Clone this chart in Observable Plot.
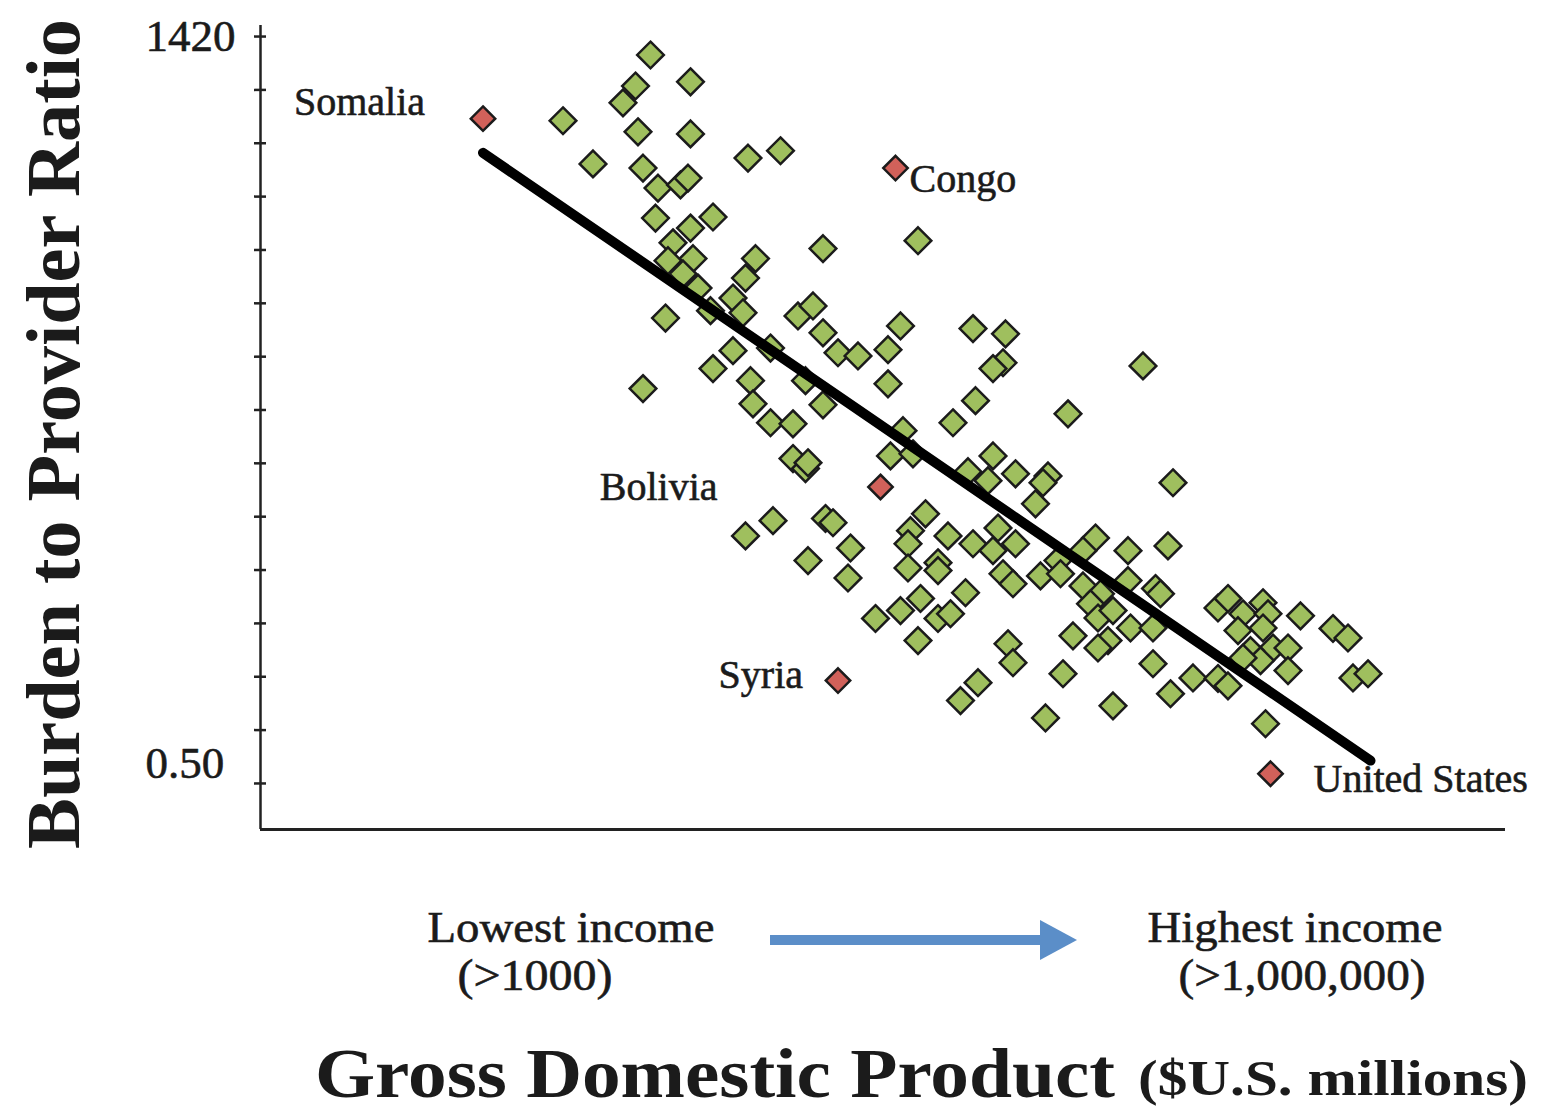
<!DOCTYPE html>
<html>
<head>
<meta charset="utf-8">
<script src="https://cdn.jsdelivr.net/npm/d3@7"></script>
<script src="https://cdn.jsdelivr.net/npm/@observablehq/plot@0.6"></script>
<style>
  html, body { margin: 0; padding: 0; background: #ffffff; }
  #wrap { position: relative; width: 1556px; height: 1117px; overflow: hidden; }
  #wrap > svg.overlay { position: absolute; left: 0; top: 0; pointer-events: none; }
</style>
</head>
<body>
<div id="wrap"></div>
<script>
// ---------------- data ----------------
// x: log10 of GDP ($US millions), y: burden to provider ratio
const gdpLog = [3.46,3.62,3.40,3.35,3.11,3.41,3.62,3.23,3.43,3.49,
  3.58,3.61,3.85,3.98,3.48,3.71,3.62,3.55,3.53,3.63,
  3.88,4.15,3.84,3.59,3.65,3.79,3.83,3.70,3.52,4.05,
  4.11,4.15,4.21,4.29,3.79,3.71,3.86,3.94,3.43,4.08,
  4.41,4.53,4.46,4.75,4.88,4.87,4.83,5.43,4.41,4.76,
  3.87,3.94,4.03,4.15,4.03,4.08,4.09,4.42,4.47,4.51,
  4.67,4.73,3.84,3.95,4.16,4.19,4.26,4.09,4.25,4.56,
  4.50,4.49,4.65,4.75,4.49,4.61,4.61,4.72,4.36,4.46,
  4.54,4.61,4.66,4.53,4.70,4.77,5.13,4.83,4.81,4.92,
  5.05,5.03,5.00,5.55,4.85,4.83,4.92,4.87,4.91,5.02,
  5.09,5.10,5.24,5.19,5.37,5.53,5.19,5.26,5.37,5.48,
  5.50,5.22,5.25,5.31,5.38,5.47,5.15,5.29,5.25,4.89,
  4.91,5.11,5.47,
  5.04,5.31,5.54,5.63,5.73,5.77,5.92,
  5.73,5.77,5.83,5.91,5.93,6.06,6.19,6.25,5.81,5.91,
  5.95,6.01,5.86,5.90,6.01,5.83,6.27,6.33];
const ratio = [1385,1334,1326,1294,1260,1239,1235,1178,1170,1132,
  1138,1151,1189,1203,1075,1077,1056,1028,994,998,
  998,1017,961,969,942,923,895,899,885,889,
  908,857,819,813,823,789,766,828,751,766,
  825,1032,870,865,855,800,789,794,760,728,
  722,686,684,720,618,599,610,623,671,627,
  686,593,471,500,504,496,448,424,391,513,
  481,456,471,456,410,420,405,363,314,329,
  352,314,323,272,158,192,703,623,576,589,
  585,572,532,572,486,443,456,399,380,395,
  424,399,467,443,443,452,376,361,386,371,
  361,342,315,329,296,296,281,272,258,266,
  230,209,228,
  125,148,171,201,200,186,114,
  334,352,323,344,323,319,295,277,291,296,
  258,258,253,234,215,239,201,209];

const highlightNames = ["Somalia", "Congo", "Bolivia", "Syria", "United States"];
const highlightGdpLog = [2.79, 4.44, 4.38, 4.21, 5.94];
const highlightRatio = [1264, 1170, 564, 196, 19];

const trendGdpLog = [2.79, 6.34];
const trendRatio = [1199, 44];

const xDomain = [1.9, 6.88];
const yDomain = [-87, 1441];
const yTickValues = [0.5, 101.9, 203.3, 304.7, 406.1, 507.5, 608.9, 710.3, 811.6, 913.0, 1014.4, 1115.8, 1217.2, 1318.6, 1420];
const yLabelValues = [1420, 0.5];
const yLabelText = ["1420", "0.50"];

const yTitle = "Burden to Provider Ratio";
const xTitle = "Gross Domestic Product";
const xTitleUnit = "($U.S. millions)";
const lowLabel = ["Lowest income", "(>1000)"];
const highLabel = ["Highest income", "(>1,000,000)"];

// ---------------- tables built from the arrays ----------------
const points = gdpLog.map((g, i) => ({gdp: g, ratio: ratio[i]}));
const highlights = highlightNames.map((n, i) => ({name: n, gdp: highlightGdpLog[i], ratio: highlightRatio[i]}));
const trend = trendGdpLog.map((g, i) => ({gdp: g, ratio: trendRatio[i]}));

// label placement (style, not data)
const labelLayout = [
  {dx: -58, dy: -16, anchor: "end"},
  {dx: 14, dy: 11, anchor: "start"},
  {dx: -163, dy: 0, anchor: "end"},
  {dx: -35, dy: -5, anchor: "end"},
  {dx: 43, dy: 5, anchor: "start"}
];

const GREEN = "#9fbf5e";
const RED = "#d1615a";
const INK = "#1b1b1b";
const SERIF = "'Liberation Serif', 'Times New Roman', serif";

const chart = Plot.plot({
  width: 1556,
  height: 870,
  marginLeft: 260,
  marginRight: 51,
  marginTop: 25,
  marginBottom: 41,
  x: {domain: xDomain, axis: null},
  y: {domain: yDomain, axis: null},
  style: {fontFamily: SERIF, background: "white", overflow: "visible", color: INK},
  marks: [
    Plot.ruleX([xDomain[0]], {stroke: "#222", strokeWidth: 2.5}),
    Plot.ruleY([yDomain[0]], {stroke: "#222", strokeWidth: 3}),
    Plot.ruleY(yTickValues, {y: d => d, x1: () => xDomain[0], x2: () => xDomain[0], insetLeft: -6, insetRight: -6, stroke: "#222", strokeWidth: 2.5}),
    Plot.text([yLabelValues[0]], {x: () => xDomain[0], y: d => d, text: () => yLabelText[0], textAnchor: "start", dx: -115, dy: 0, fontSize: 45, fill: INK, stroke: INK, strokeWidth: 0.6}),
    Plot.text([yLabelValues[1]], {x: () => xDomain[0], y: d => d, text: () => yLabelText[1], textAnchor: "start", dx: -115, dy: -20, fontSize: 45, fill: INK, stroke: INK, strokeWidth: 0.6}),
    Plot.dot(points, {x: "gdp", y: "ratio", symbol: "diamond2", r: 12, fill: GREEN, stroke: INK, strokeWidth: 2.5}),
    Plot.line(trend, {x: "gdp", y: "ratio", stroke: "#000", strokeWidth: 10, strokeLinecap: "round"}),
    Plot.dot(highlights, {x: "gdp", y: "ratio", symbol: "diamond2", r: 11, fill: RED, stroke: INK, strokeWidth: 2.5}),
    ...highlights.map((h, i) => Plot.text([h], {
      x: "gdp", y: "ratio", text: "name",
      dx: labelLayout[i].dx, dy: labelLayout[i].dy, textAnchor: labelLayout[i].anchor,
      fontSize: 40, fill: INK, stroke: INK, strokeWidth: 0.6
    }))
  ]
});

const wrap = document.getElementById("wrap");
wrap.appendChild(chart);

// ---------------- annotations: axis titles and income arrow ----------------
const svg = d3.select(wrap).append("svg")
  .attr("class", "overlay")
  .attr("width", 1556).attr("height", 1117)
  .style("font-family", SERIF);

svg.append("text")
  .attr("transform", "translate(79,434) rotate(-90)")
  .attr("text-anchor", "middle")
  .attr("font-weight", "bold")
  .attr("font-size", 76)
  .attr("textLength", 830)
  .attr("lengthAdjust", "spacingAndGlyphs")
  .attr("fill", INK)
  .text(yTitle);

const small = [
  {t: lowLabel[0], x: 571, y: 942, w: 287},
  {t: lowLabel[1], x: 535, y: 990, w: 155},
  {t: highLabel[0], x: 1295, y: 942, w: 295},
  {t: highLabel[1], x: 1302, y: 990, w: 247}
];
small.forEach(s => {
  svg.append("text")
    .attr("x", s.x).attr("y", s.y)
    .attr("text-anchor", "middle")
    .attr("font-size", 44)
    .attr("textLength", s.w)
    .attr("lengthAdjust", "spacingAndGlyphs")
    .attr("fill", INK)
    .attr("stroke", INK)
    .attr("stroke-width", 0.6)
    .text(s.t);
});

// arrow
svg.append("rect").attr("x", 770).attr("y", 935).attr("width", 275).attr("height", 10).attr("fill", "#5b8ec8");
svg.append("path").attr("d", "M1040,920 L1077,940 L1040,960 Z").attr("fill", "#5b8ec8");

svg.append("text")
  .attr("x", 315).attr("y", 1097)
  .attr("font-weight", "bold")
  .attr("font-size", 70)
  .attr("textLength", 800)
  .attr("lengthAdjust", "spacingAndGlyphs")
  .attr("fill", INK)
  .text(xTitle);
svg.append("text")
  .attr("x", 1138).attr("y", 1095)
  .attr("font-weight", "bold")
  .attr("font-size", 50)
  .attr("textLength", 390)
  .attr("lengthAdjust", "spacingAndGlyphs")
  .attr("fill", INK)
  .text(xTitleUnit);
</script>
</body>
</html>
